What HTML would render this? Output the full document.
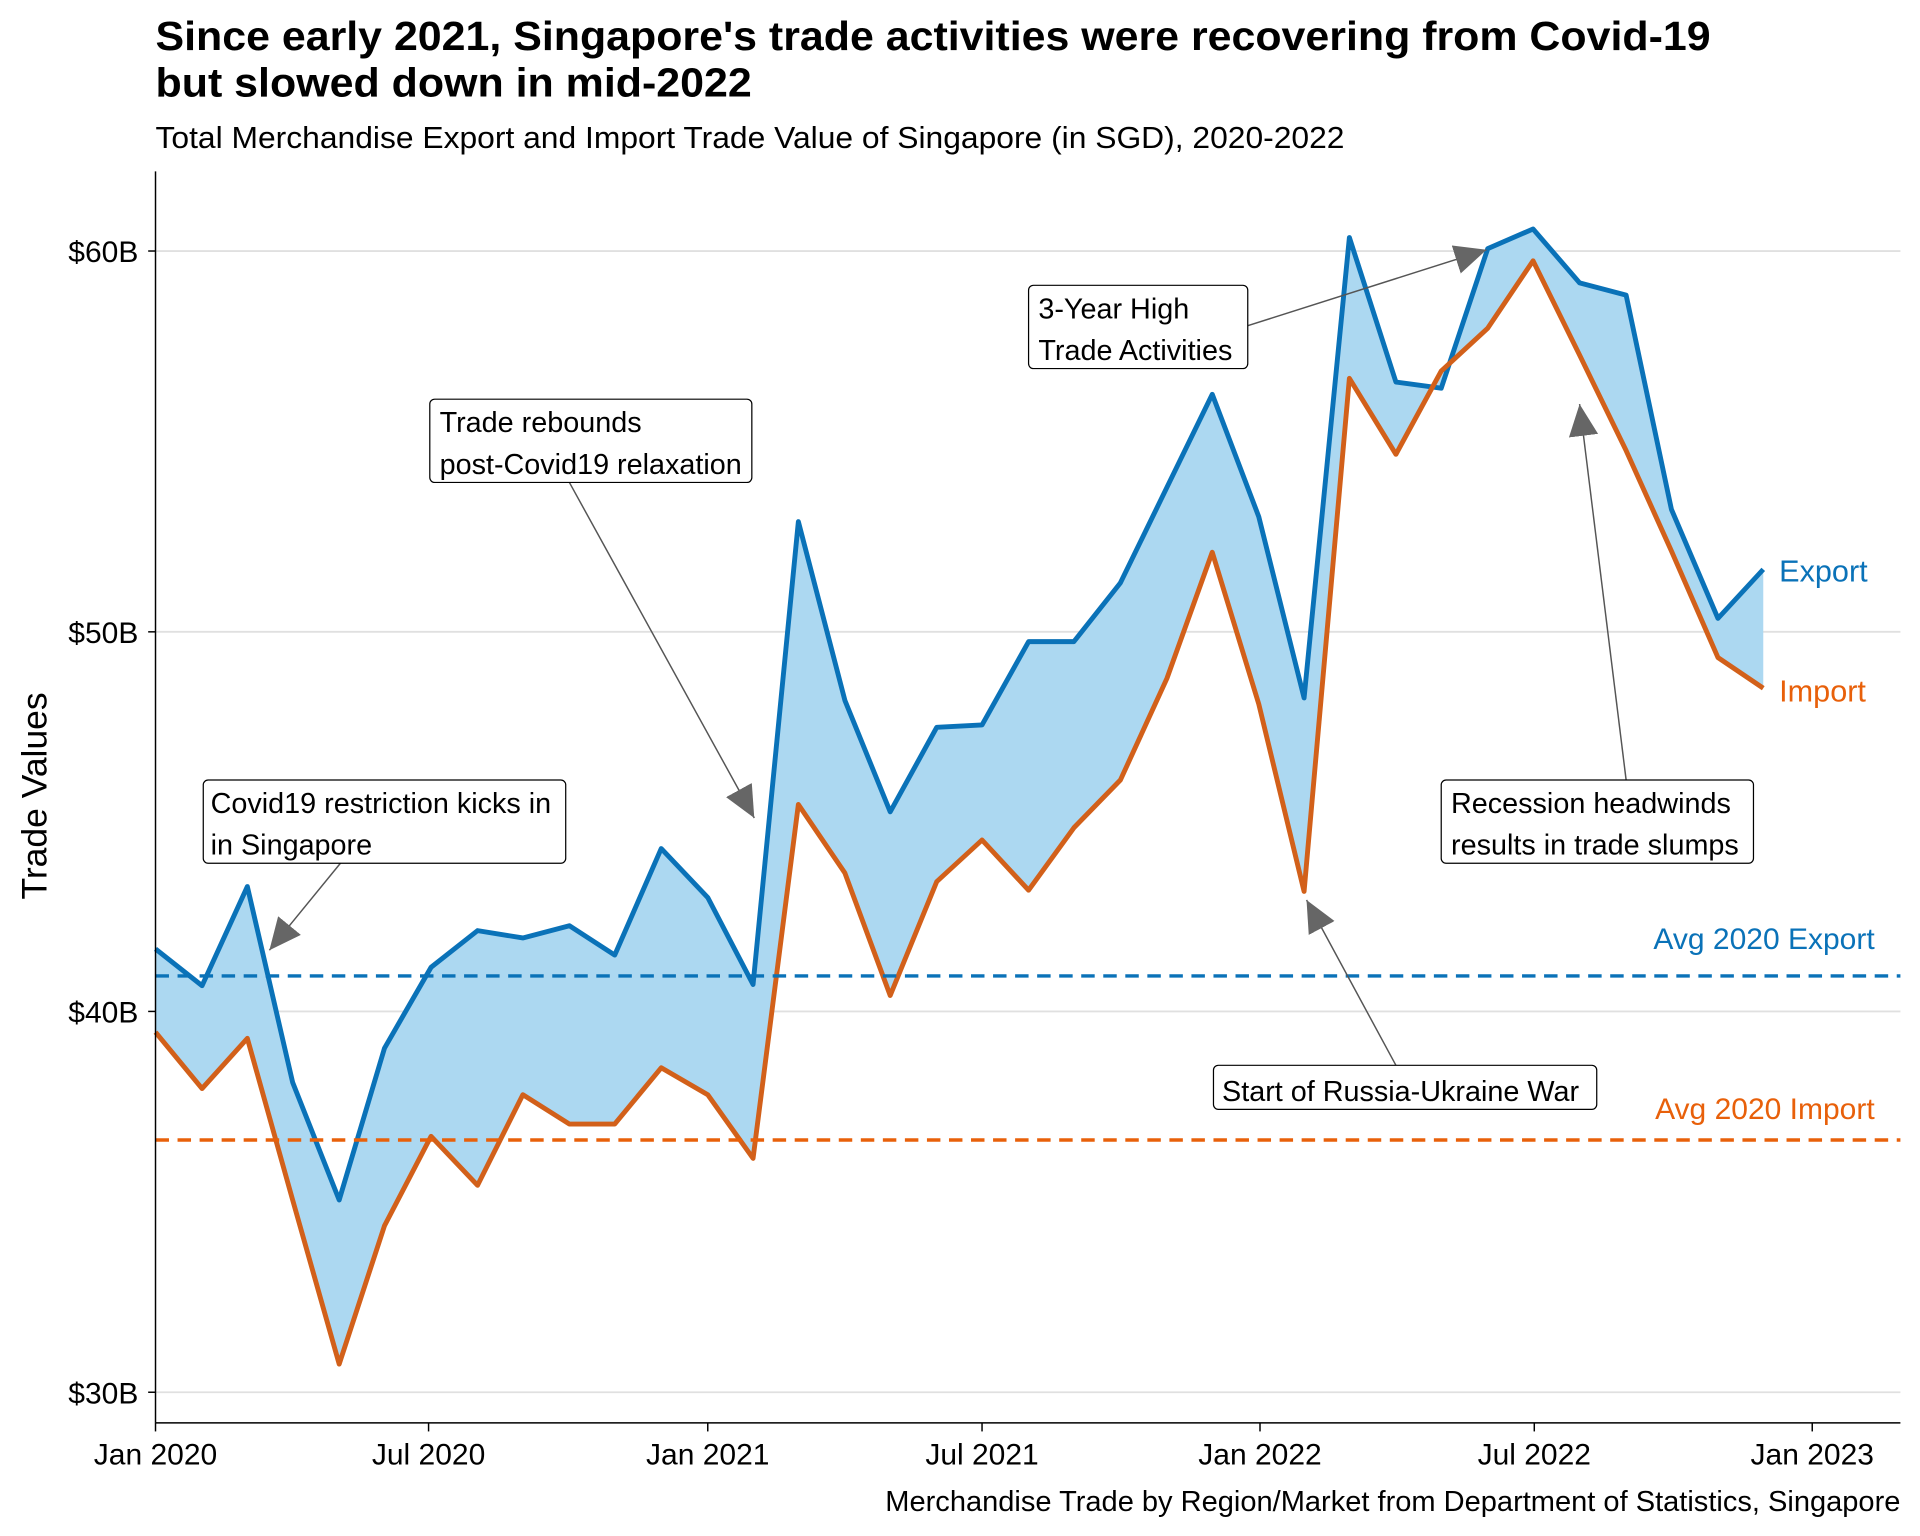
<!DOCTYPE html>
<html><head><meta charset="utf-8"><style>html,body{margin:0;padding:0;background:#fff}svg{display:block}</style></head>
<body>
<svg width="1920" height="1536" viewBox="0 0 1568 1254.4" xmlns="http://www.w3.org/2000/svg" font-family="Liberation Sans, Arial, sans-serif">
<defs>
<marker id="ah" markerUnits="userSpaceOnUse" markerWidth="28" markerHeight="24" refX="26" refY="12" orient="auto">
<polygon points="0,0 26,12 0,24" fill="#666"/>
</marker>
</defs>
<rect width="1568" height="1255" fill="#fff"/>
<text x="127" y="41" font-size="33" font-weight="bold" fill="#000" textLength="1270" lengthAdjust="spacingAndGlyphs">Since early 2021, Singapore's trade activities were recovering from Covid-19</text>
<text x="127" y="79" font-size="33" font-weight="bold" fill="#000" textLength="487" lengthAdjust="spacingAndGlyphs">but slowed down in mid-2022</text>
<text x="127" y="121" font-size="25" fill="#000" textLength="971" lengthAdjust="spacingAndGlyphs">Total Merchandise Export and Import Trade Value of Singapore (in SGD), 2020-2022</text>

<g stroke="#e0e0e0" stroke-width="1.5">
<line x1="127" y1="205" x2="1552" y2="205"/>
<line x1="127" y1="516" x2="1552" y2="516"/>
<line x1="127" y1="826" x2="1552" y2="826"/>
<line x1="127" y1="1137" x2="1552" y2="1137"/>
</g>

<polygon fill="#acd8f1" points="127,775 165,805 202,724 239,884 277,980 314,856 352,790 390,760 427,766 465,756 502,780 540,693 578,733 615,804 652,426 690,572 727,663 765,594 802,592 840,524 877,524 915,476 953,398 990,322 1028,422 1065,570 1102,194 1140,312 1177,317 1215,203 1252,187 1290,231 1328,241 1365,416 1403,505 1440,465 1440,562 1403,537 1365,450 1328,368 1290,290 1252,213 1215,268 1177,303 1140,371 1102,309 1065,728 1028,575 990,451 953,554 915,637 877,676 840,727 802,686 765,720 727,813 690,713 652,657 615,946 578,894 540,872 502,918 465,918 427,894 390,968 352,928 314,1001 277,1114 239,980 202,848 165,889 127,843"/>
<polyline fill="none" stroke="#0a72b8" stroke-width="4" stroke-linejoin="round" points="127,775 165,805 202,724 239,884 277,980 314,856 352,790 390,760 427,766 465,756 502,780 540,693 578,733 615,804 652,426 690,572 727,663 765,594 802,592 840,524 877,524 915,476 953,398 990,322 1028,422 1065,570 1102,194 1140,312 1177,317 1215,203 1252,187 1290,231 1328,241 1365,416 1403,505 1440,465"/>
<polyline fill="none" stroke="#d2601a" stroke-width="4" stroke-linejoin="round" points="127,843 165,889 202,848 239,980 277,1114 314,1001 352,928 390,968 427,894 465,918 502,918 540,872 578,894 615,946 652,657 690,713 727,813 765,720 802,686 840,727 877,676 915,637 953,554 990,451 1028,575 1065,728 1102,309 1140,371 1177,303 1215,268 1252,213 1290,290 1328,368 1365,450 1403,537 1440,562"/>

<line x1="127" y1="797" x2="1552" y2="797" stroke="#0a72b8" stroke-width="2.8" stroke-dasharray="11,7"/>
<line x1="127" y1="931" x2="1552" y2="931" stroke="#e8600a" stroke-width="2.8" stroke-dasharray="11,7"/>
<text x="1531" y="775" font-size="24.5" fill="#0a72b8" text-anchor="end">Avg 2020 Export</text>
<text x="1531" y="914" font-size="24.5" fill="#e8600a" text-anchor="end">Avg 2020 Import</text>
<text x="1453" y="475" font-size="25" fill="#0a72b8">Export</text>
<text x="1453" y="573" font-size="25" fill="#e8600a">Import</text>

<g stroke="#555" stroke-width="1.2" fill="none" marker-end="url(#ah)">
<line x1="278" y1="705" x2="220" y2="776"/>
<line x1="465" y1="394" x2="616" y2="668"/>
<line x1="1019" y1="266" x2="1214" y2="204"/>
<line x1="1328" y1="637" x2="1290" y2="330"/>
<line x1="1140" y1="870" x2="1067" y2="735"/>
</g>
<g fill="#fff" stroke="#000" stroke-width="1">
<rect x="166" y="637" width="296" height="68" rx="4"/>
<rect x="351" y="326" width="263" height="68" rx="4"/>
<rect x="840" y="233" width="179" height="68" rx="4"/>
<rect x="1177" y="637" width="255" height="68" rx="4"/>
<rect x="991" y="870" width="313" height="36" rx="4"/>
</g>
<g font-size="23.5" fill="#000">
<text x="172" y="664">Covid19 restriction kicks in</text>
<text x="172" y="698"> in Singapore</text>
<text x="359" y="353">Trade rebounds</text>
<text x="359" y="387">post-Covid19 relaxation</text>
<text x="848" y="260">3-Year High</text>
<text x="848" y="294">Trade Activities</text>
<text x="1185" y="664">Recession headwinds</text>
<text x="1185" y="698">results in trade slumps</text>
<text x="998" y="899">Start of Russia-Ukraine War</text>
</g>

<line x1="127" y1="140" x2="127" y2="1162" stroke="#000" stroke-width="1.2"/>
<line x1="127" y1="1162" x2="1552" y2="1162" stroke="#000" stroke-width="1.2"/>
<g stroke="#000" stroke-width="1.2">
<line x1="121" y1="205" x2="127" y2="205"/><line x1="121" y1="516" x2="127" y2="516"/>
<line x1="121" y1="826" x2="127" y2="826"/><line x1="121" y1="1137" x2="127" y2="1137"/>
<line x1="127" y1="1162" x2="127" y2="1169"/><line x1="350" y1="1162" x2="350" y2="1169"/>
<line x1="578" y1="1162" x2="578" y2="1169"/><line x1="802" y1="1162" x2="802" y2="1169"/>
<line x1="1029" y1="1162" x2="1029" y2="1169"/><line x1="1253" y1="1162" x2="1253" y2="1169"/>
<line x1="1480" y1="1162" x2="1480" y2="1169"/>
</g>
<g font-size="24.5" fill="#000" text-anchor="end">
<text x="113" y="214">$60B</text><text x="113" y="525">$50B</text>
<text x="113" y="835">$40B</text><text x="113" y="1146">$30B</text>
</g>
<g font-size="24.5" fill="#000" text-anchor="middle">
<text x="127" y="1196">Jan 2020</text><text x="350" y="1196">Jul 2020</text>
<text x="578" y="1196">Jan 2021</text><text x="802" y="1196">Jul 2021</text>
<text x="1029" y="1196">Jan 2022</text><text x="1253" y="1196">Jul 2022</text>
<text x="1480" y="1196">Jan 2023</text>
</g>
<text transform="translate(38,650) rotate(-90)" font-size="29" text-anchor="middle" fill="#000">Trade Values</text>
<text x="1552" y="1234" font-size="23.5" text-anchor="end" fill="#000" textLength="829" lengthAdjust="spacingAndGlyphs">Merchandise Trade by Region/Market from Department of Statistics, Singapore</text>
</svg>
</body></html>
